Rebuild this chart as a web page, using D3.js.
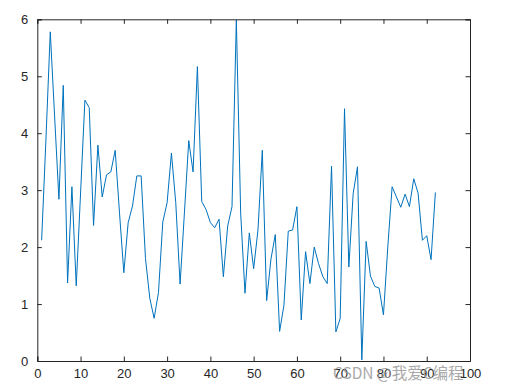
<!DOCTYPE html>
<html>
<head>
<meta charset="utf-8">
<script src="https://cdn.jsdelivr.net/npm/d3@7"></script>
<style>
  body { margin: 0; background: #fff; }
  svg { display: block; }
</style>
</head>
<body>
<svg id="chart" width="509" height="390"></svg>
<script>
'use strict';

// values, one per x = 1..92
const values = [
  2.12, 3.9, 5.78, 4.3, 2.84, 4.84, 1.37, 3.06, 1.32, 2.95,
  4.58, 4.45, 2.38, 3.79, 2.88, 3.27, 3.32, 3.7, 2.6, 1.55,
  2.43, 2.72, 3.25, 3.25, 1.8, 1.1, 0.75, 1.2, 2.44, 2.78,
  3.65, 2.78, 1.35, 2.6, 3.87, 3.32, 5.17, 2.8, 2.66, 2.43,
  2.34, 2.49, 1.48, 2.37, 2.71, 5.99, 2.6, 1.19, 2.25, 1.62,
  2.3, 3.7, 1.06, 1.79, 2.22, 0.52, 0.98, 2.28, 2.3, 2.71,
  0.72, 1.92, 1.36, 2.0, 1.71, 1.48, 1.36, 3.42, 0.51, 0.75,
  4.43, 1.65, 2.94, 3.41, 0.02, 2.1, 1.49, 1.31, 1.28, 0.81,
  2.0, 3.06, 2.88, 2.7, 2.93, 2.71, 3.2, 2.95, 2.12, 2.2,
  1.78, 2.96
];
const xTicks = d3.range(0, 101, 10);
const yTicks = d3.range(0, 7, 1);
const watermark = 'CSDN @我爱C编程';

const svg = d3.select('#chart');
// plot box edges
const padL = 37.3, padR = 470, padT = 19.3, padB = 361;
const tickLen = 4.5;
const axisColor = '#262626';
const font = 'Liberation Sans, Arial, sans-serif';

const x = d3.scaleLinear().domain([0, 100]).range([padL, padR]);
const y = d3.scaleLinear().domain([0, 6]).range([padB, padT]);

// line
const line = d3.line()
  .x((d, i) => x(i + 1))
  .y(d => y(d));
svg.append('path')
  .datum(values)
  .attr('d', line)
  .attr('fill', 'none')
  .attr('stroke', '#0072BD')
  .attr('stroke-width', 1)
  .attr('stroke-linejoin', 'round');

// inner ticks, MATLAB style (both sides)
const bottomAxis = d3.axisBottom(x).tickValues(xTicks).tickSize(-tickLen).tickPadding(8).tickFormat(d3.format('d'));
const topAxis = d3.axisTop(x).tickValues(xTicks).tickSize(-tickLen).tickFormat('');
const leftAxis = d3.axisLeft(y).tickValues(yTicks).tickSize(-tickLen).tickPadding(9).tickFormat(d3.format('d'));
const rightAxis = d3.axisRight(y).tickValues(yTicks).tickSize(-tickLen).tickFormat('');

const gB = svg.append('g').attr('transform', `translate(0,${padB})`).call(bottomAxis);
const gT = svg.append('g').attr('transform', `translate(0,${padT})`).call(topAxis);
const gL = svg.append('g').attr('transform', `translate(${padL},0)`).call(leftAxis);
const gR = svg.append('g').attr('transform', `translate(${padR},0)`).call(rightAxis);

[gB, gT, gL, gR].forEach(g => {
  g.select('.domain').attr('stroke', axisColor).attr('stroke-width', 1);
  g.selectAll('.tick line').attr('stroke', axisColor).attr('stroke-width', 1);
  g.selectAll('.tick text')
    .attr('fill', axisColor)
    .attr('font-family', font)
    .attr('font-size', 13);
});

// watermark
svg.append('text')
  .attr('x', 333)
  .attr('y', 379)
  .attr('font-family', 'Noto Sans CJK SC, sans-serif')
  .attr('font-size', 15.5)
  .attr('fill', '#9a9a9a')
  .attr('opacity', 0.85)
  .text(watermark);
</script>
</body>
</html>
